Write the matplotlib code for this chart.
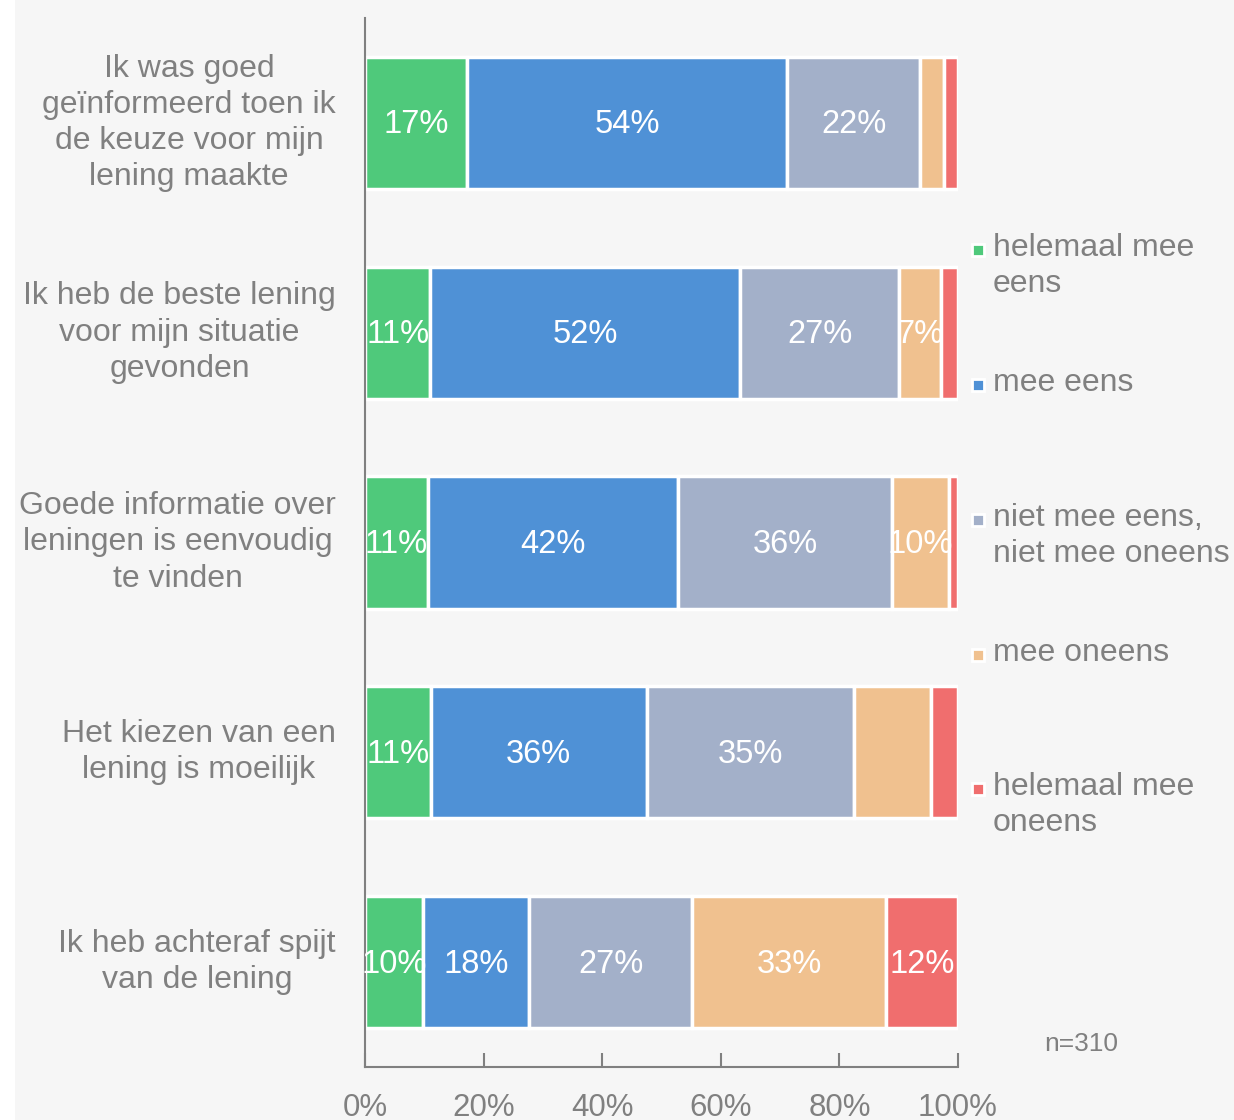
import matplotlib.pyplot as plt
from matplotlib.patches import Rectangle
import numpy as np

plt.rcParams['font.family'] = ['Liberation Sans', 'DejaVu Sans']

categories = [
    'Ik was goed\ngeïnformeerd toen ik\nde keuze voor mijn\nlening maakte',
    'Ik heb de beste lening\nvoor mijn situatie\ngevonden',
    'Goede informatie over\nleningen is eenvoudig\nte vinden',
    'Het kiezen van een\nlening is moeilijk',
    'Ik heb achteraf spijt\nvan de lening',
]
series = ['helemaal mee\neens', 'mee eens', 'niet mee eens,\nniet mee oneens',
          'mee oneens', 'helemaal mee\noneens']
colors = ['#4fc97b', '#4f91d6', '#a3b0c9', '#f0c18f', '#f06e6e']

helemaal_eens = [17.2, 11.0, 10.6, 11.1, 9.8]
eens = [54.0, 52.3, 42.2, 36.4, 17.9]
neutraal = [22.4, 26.8, 36.1, 34.9, 27.5]
oneens = [4.0, 7.0, 9.6, 13.0, 32.7]
helemaal_oneens = [2.4, 2.9, 1.5, 4.6, 12.1]

lbl_helemaal_eens = ['17%', '11%', '11%', '11%', '10%']
lbl_eens = ['54%', '52%', '42%', '36%', '18%']
lbl_neutraal = ['22%', '27%', '36%', '35%', '27%']
lbl_oneens = ['', '7%', '10%', '', '33%']
lbl_helemaal_oneens = ['', '', '', '', '12%']

values = [helemaal_eens, eens, neutraal, oneens, helemaal_oneens]
labels = [lbl_helemaal_eens, lbl_eens, lbl_neutraal, lbl_oneens, lbl_helemaal_oneens]

grey = '#808080'
W, H = 1234, 1120
fig = plt.figure(figsize=(W / 100, H / 100), dpi=100)
fig.patch.set_facecolor('white')
fig.patches.append(Rectangle((15 / W, 0), 1, 1, transform=fig.transFigure,
                             facecolor='#f6f6f6', edgecolor='none', zorder=-10))

ax = fig.add_axes([365 / W, 1 - 1067 / H, (958 - 365) / W, (1067 - 18) / H])
ax.set_facecolor('none')

y = np.arange(len(categories))
left = np.zeros(len(categories))
for vals, lbls, col in zip(values, labels, colors):
    vals = np.array(vals)
    ax.barh(y, vals, left=left, height=0.63, color=col, edgecolor='white', linewidth=2.5)
    for yi, l, v, t in zip(y, left, vals, lbls):
        if t:
            ax.text(l + v / 2, yi + 0.01, t, ha='center', va='center', color='white',
                    fontsize=23.5)
    left += vals

ax.set_xlim(0, 100)
ax.set_ylim(4.5, -0.5)
ax.set_xticks(np.arange(0, 101, 20))
ax.set_xticklabels([f'{v}%' for v in range(0, 101, 20)])
ax.tick_params(axis='x', direction='in', length=10, width=1.5, color=grey,
               labelcolor=grey, labelsize=22.5, pad=19)
ax.set_yticks([])
for s in ['top', 'right']:
    ax.spines[s].set_visible(False)
for s in ['left', 'bottom']:
    ax.spines[s].set_color(grey)
    ax.spines[s].set_linewidth(1.5)

for yi, cat in zip(y, categories):
    ax.text(-29 / 5.93, yi, cat, ha='right', va='center', multialignment='center',
            color=grey, fontsize=23, linespacing=1.27)

# legend
leg_y = [250, 385, 520, 655, 789]
for ly, name, col in zip(leg_y, series, colors):
    fig.patches.append(Rectangle((972 / W, 1 - (ly + 6) / H), 12 / W, 12 / H,
                                 transform=fig.transFigure, facecolor=col,
                                 edgecolor='white', linewidth=2))
    fig.text(993 / W, 1 - (ly - 17) / H, name, ha='left', va='top', color=grey,
             fontsize=23, linespacing=1.27)

fig.text(1081 / W, 1 - 1044 / H, 'n=310', ha='center', va='center', color=grey, fontsize=19)

fig.savefig('out.png', dpi=100)
